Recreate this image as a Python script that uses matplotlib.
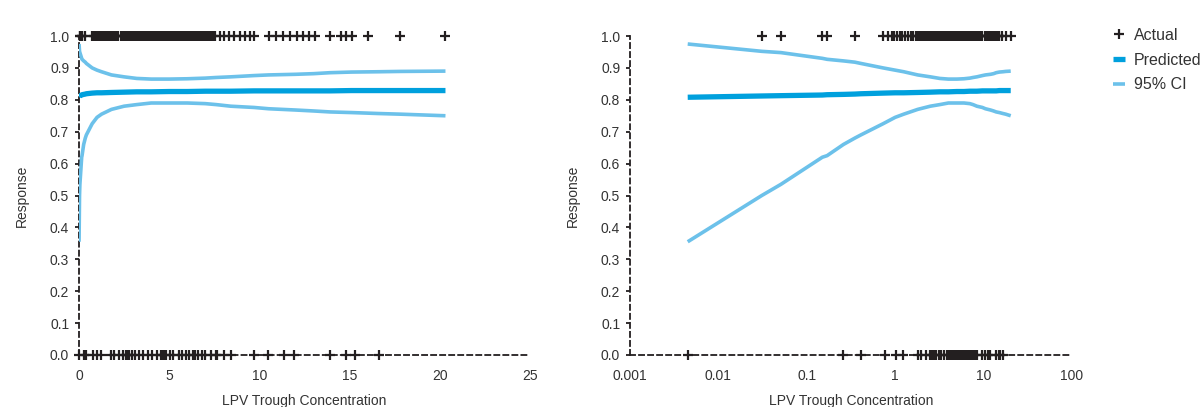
import numpy as np
import matplotlib
matplotlib.use("Agg")
import matplotlib.pyplot as plt
from matplotlib.lines import Line2D

plt.rcParams["font.family"] = ["Liberation Sans", "DejaVu Sans"]

PRED_C, CI_C, TXT = "#00a0dd", "#6cc1ea", "#333333"

resp_conc = [0.031, 0.051, 0.15, 0.17, 0.35, 0.73, 0.82, 0.91, 0.97, 1.06, 1.12, 1.21,
             1.29, 1.38, 1.52, 1.6, 1.71, 1.83, 1.92, 2.01, 2.12, 2.18, 2.31, 2.42, 2.5,
             2.56, 2.63, 2.71, 2.79, 2.86, 2.93, 3.02, 3.1, 3.18, 3.27, 3.36, 3.44, 3.52,
             3.61, 3.69, 3.78, 3.87, 3.95, 4.04, 4.12, 4.21, 4.3, 4.38, 4.47, 4.55, 4.64,
             4.72, 4.81, 4.9, 4.98, 5.07, 5.15, 5.24, 5.33, 5.41, 5.5, 5.58, 5.67, 5.75,
             5.84, 5.93, 6.01, 6.1, 6.18, 6.27, 6.36, 6.44, 6.53, 6.61, 6.7, 6.79, 6.87,
             6.96, 7.04, 7.13, 7.22, 7.3, 7.41, 7.52, 7.81, 8.04, 8.32, 8.61, 8.93, 9.21,
             9.45, 9.72, 10.5, 10.9, 11.3, 11.7, 12.05, 12.4, 12.75, 13.05, 13.9, 14.5,
             14.8, 15.1, 16.0, 17.8, 20.3]
nonresp_conc = [0.0045, 0.26, 0.41, 0.76, 1.02, 1.22, 1.8, 1.96, 2.21, 2.45, 2.62, 2.7,
                2.78, 2.92, 3.13, 3.32, 3.55, 3.81, 4.02, 4.31, 4.52, 4.61, 4.7, 4.82,
                5.03, 5.21, 5.52, 5.71, 5.92, 6.12, 6.31, 6.43, 6.62, 6.8, 6.98, 7.31,
                7.58, 7.66, 8.02, 8.41, 9.7, 10.45, 11.35, 11.9, 13.9, 14.8, 15.3, 16.6]

# fitted curve with 95% confidence band
curve_conc = [0.0045, 0.031, 0.051, 0.15, 0.17, 0.26, 0.35, 0.41, 0.73, 1.0, 1.25, 1.8,
              2.5, 3.2, 4.0, 5.0, 6.0, 7.0, 7.6, 8.4, 9.7, 10.5, 12.0, 13.0, 13.9, 15.1,
              16.6, 17.8, 20.3]
pred = [0.808, 0.812, 0.813, 0.815, 0.816, 0.817, 0.818, 0.819, 0.821, 0.822, 0.822,
        0.823, 0.824, 0.825, 0.825, 0.826, 0.826, 0.827, 0.827, 0.827, 0.828, 0.828,
        0.828, 0.828, 0.828, 0.829, 0.829, 0.829, 0.829]
ci_low = [0.355, 0.50, 0.535, 0.62, 0.625, 0.66, 0.68, 0.69, 0.725, 0.745, 0.755, 0.77,
          0.78, 0.785, 0.79, 0.79, 0.79, 0.788, 0.785, 0.78, 0.776, 0.772, 0.768, 0.765,
          0.762, 0.76, 0.757, 0.755, 0.75]
ci_high = [0.975, 0.952, 0.948, 0.93, 0.927, 0.922, 0.918, 0.914, 0.90, 0.893, 0.888,
           0.878, 0.872, 0.867, 0.865, 0.865, 0.866, 0.868, 0.87, 0.872, 0.876, 0.878,
           0.88, 0.882, 0.885, 0.887, 0.888, 0.889, 0.89]

yticks = np.arange(0, 1.01, 0.1)
INK = "#231f20"

fig = plt.figure(figsize=(12.02, 4.07), dpi=100)
axL = fig.add_axes([0.0657, 0.1278, 0.3755, 0.7837])
axR = fig.add_axes([0.5241, 0.1278, 0.3677, 0.7837])


def draw(ax, log):
    ax.plot(curve_conc, ci_low, color=CI_C, lw=2.6, solid_capstyle="butt", zorder=2)
    ax.plot(curve_conc, ci_high, color=CI_C, lw=2.6, solid_capstyle="butt", zorder=2)
    ax.plot(curve_conc, pred, color=PRED_C, lw=3.8, solid_capstyle="butt", zorder=3)
    ax.plot(resp_conc, np.ones(len(resp_conc)), ls="none", marker="+", ms=7.2,
            mew=1.6, color=INK, clip_on=False, zorder=4)
    ax.plot(nonresp_conc, np.zeros(len(nonresp_conc)), ls="none", marker="+", ms=7.2,
            mew=1.6, color=INK, clip_on=False, zorder=4)
    if log:
        ax.set_xscale("log")
        ax.set_xlim(0.001, 100)
        ax.set_xticks([0.001, 0.01, 0.1, 1, 10, 100])
        ax.set_xticklabels(["0.001", "0.01", "0.1", "1", "10", "100"])
        ax.minorticks_off()
    else:
        ax.set_xlim(0, 25)
        ax.set_xticks([0, 5, 10, 15, 20, 25])
    ax.set_ylim(0, 1)
    ax.set_yticks(yticks)
    ax.set_yticklabels([f"{v:.1f}" for v in yticks])
    for side in ("top", "right"):
        ax.spines[side].set_visible(False)
    for side in ("left", "bottom"):
        ax.spines[side].set_linestyle((0, (2.8, 2.2)))
        ax.spines[side].set_linewidth(1.3)
        ax.spines[side].set_color(INK)
        ax.spines[side].set_zorder(1)
    ax.tick_params(axis="y", length=3, width=1.3, color=INK, pad=4,
                   labelsize=10, labelcolor=TXT)
    ax.tick_params(axis="x", length=0, pad=10, labelsize=10, labelcolor=TXT)
    ax.set_xlabel("LPV Trough Concentration", fontsize=10, color=TXT, labelpad=8)
    ax.set_ylabel("Response", fontsize=10, color=TXT, labelpad=15)


draw(axL, False)
draw(axR, True)

handles = [
    Line2D([0], [0], ls="none", marker="+", ms=7.2, mew=1.6, color=INK, label="Actual"),
    Line2D([0], [0], color=PRED_C, lw=3.8, solid_capstyle="butt", label="Predicted"),
    Line2D([0], [0], color=CI_C, lw=2.6, solid_capstyle="butt", label="95% CI"),
]
fig.legend(handles=handles, loc="upper left", bbox_to_anchor=(0.921, 0.947),
           frameon=False, fontsize=11.5, handlelength=0.75, handletextpad=0.55,
           labelspacing=0.6, borderaxespad=0, labelcolor=TXT)

fig.savefig("out.png", dpi=100)
